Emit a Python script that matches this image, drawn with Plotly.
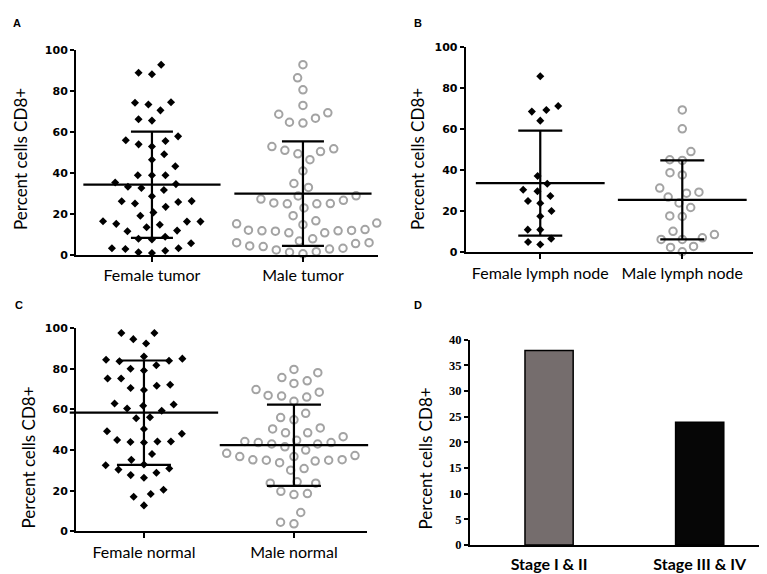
import math
import plotly.graph_objects as go

W, H = 767, 574

# ---- data ----
tumor_labels = ["Female tumor", "Male tumor"]
female_tumor = [92.9, 88.2, 89.0, 74.3, 73.5, 74.6, 70.6, 65.6, 66.3, 56.0, 54.0, 53.0,
                55.6, 57.9, 49.2, 46.5, 43.3, 38.9, 38.9, 38.9, 35.4, 34.6, 32.7, 31.7,
                33.3, 28.7, 26.3, 25.9, 23.5, 26.2, 25.1, 20.8, 19.2, 16.3, 16.3, 13.5,
                14.8, 15.2, 16.5, 11.6, 11.9, 7.9, 7.6, 8.9, 5.7, 3.3, 2.1, 1.0, 1.3, 2.9, 3.3]
male_tumor = [92.9, 86.5, 80.6, 73.0, 68.7, 64.8, 64.4, 66.8, 69.4, 52.9, 51.1, 49.4,
              50.5, 51.8, 46.5, 41.0, 34.9, 33.0, 28.9, 28.8, 26.7, 25.1, 25.0, 23.0,
              25.0, 25.4, 27.3, 19.2, 15.6, 14.8, 15.2, 16.7, 12.4, 11.8, 11.6, 10.8,
              12.0, 10.8, 11.8, 12.1, 6.8, 6.0, 4.4, 3.3, 7.9, 2.5, 1.3, 0.6, 1.6, 2.9,
              4.1, 5.6, 6.0]
tumor_mean = [34.3, 30.0]
tumor_sd = [25.9, 25.5]

lymph_labels = ["Female lymph node", "Male lymph node"]
female_lymph = [86.0, 69.5, 71.4, 68.7, 64.3, 37.3, 33.5, 29.8, 30.6, 27.5, 25.1, 24.0,
                20.2, 17.6, 11.1, 11.1, 6.7, 3.8, 5.1]
male_lymph = [69.5, 60.3, 49.2, 44.9, 45.2, 38.9, 37.8, 31.4, 29.4, 27.0, 28.9, 24.1,
              21.9, 17.5, 17.8, 10.3, 7.1, 6.3, 6.3, 8.7, 2.9, 0.3, 2.4]
lymph_mean = [33.8, 25.6]
lymph_sd = [25.6, 19.3]

normal_labels = ["Female normal", "Male normal"]
female_normal = [97.6, 97.6, 94.6, 92.5, 85.0, 84.0, 81.8, 86.1, 79.2, 80.0, 83.7, 84.5,
                 75.2, 72.2, 70.6, 69.6, 71.7, 75.2, 62.9, 61.8, 59.4, 60.5, 62.4, 55.7,
                 56.2, 50.4, 49.3, 48.0, 45.0, 44.0, 43.7, 44.2, 44.2, 38.1, 32.5, 30.4,
                 27.7, 26.4, 28.9, 35.2, 30.9, 32.9, 18.4, 20.5, 17.0, 12.8]
male_normal = [79.7, 78.1, 74.1, 72.8, 75.7, 69.8, 66.9, 66.1, 66.6, 68.5, 64.0, 58.1,
               56.0, 54.9, 50.4, 50.9, 48.5, 48.5, 46.6, 44.8, 44.2, 43.7, 43.7, 41.6,
               43.0, 43.0, 40.0, 38.4, 36.8, 36.8, 37.3, 35.3, 35.0, 35.0, 33.8, 34.6,
               35.2, 30.9, 30.1, 23.7, 23.7, 24.4, 19.7, 18.1, 18.6, 9.3, 3.7, 4.5]
normal_mean = [58.4, 42.4]
normal_sd = [25.7, 20.0]

stage_labels = ["Stage I & II", "Stage III & IV"]
stage_values = [37.9, 23.9]

# ---- layout geometry (pixels -> paper) ----
def px_dom(a, b, total):
    return [a / total, b / total]

panels = {
    "A": dict(xd=px_dom(68, 370, W), yd=[(H - 246) / H, (H - 36) / H], xr=[-0.503, 1.497]),
    "B": dict(xd=px_dom(457.7, 745, W), yd=[(H - 243.3) / H, (H - 33.3) / H], xr=[-0.525, 1.498]),
    "C": dict(xd=px_dom(68, 359, W), yd=[(H - 529.3) / H, (H - 321) / H], xr=[-0.453, 1.487]),
    "D": dict(xd=[462 / W, 1.0], yd=[(H - 543.3) / H, (H - 332.7) / H], xr=[-0.525, 1.50]),
}


def swarm(values, px_y, diam):
    # simple greedy beeswarm in pixel space
    order = sorted(range(len(values)), key=lambda i: values[i])
    placed = []
    out = [0.0] * len(values)
    for k, i in enumerate(order):
        y = values[i] * px_y
        cands = [0.0]
        for (px, py) in placed:
            dy = abs(y - py)
            if dy < diam:
                dx = math.sqrt(diam ** 2 - dy ** 2)
                cands += [px + dx, px - dx]
        sign = 1 if k % 2 == 0 else -1
        cands.sort(key=lambda c: (round(abs(c), 3), -sign * c))
        for c in cands:
            if all((c - px) ** 2 + (y - py) ** 2 >= diam ** 2 - 1e-6 for px, py in placed):
                out[i] = c
                placed.append((c, y))
                break
    return out


fig = go.Figure()

dot_sets = [
    ("A", "x", "y", [female_tumor, male_tumor], tumor_mean, tumor_sd, 98, 21, 13.5),
    ("B", "x2", "y2", [female_lymph, male_lymph], lymph_mean, lymph_sd, 92, 22, 12.5),
    ("C", "x3", "y3", [female_normal, male_normal], normal_mean, normal_sd, 106, 27, 13.5),
]

for key, xa, ya, groups, means, sds, mean_w, cap_w, gap in dot_sets:
    p = panels[key]
    px_x = (p["xd"][1] - p["xd"][0]) * W / (p["xr"][1] - p["xr"][0])
    px_y = (p["yd"][1] - p["yd"][0]) * H / 100.0
    for gi, vals in enumerate(groups):
        offs = swarm(vals, px_y, gap)
        xs = [gi + o / px_x for o in offs]
        if gi == 0:
            mk = dict(symbol="diamond", size=6.2, color="black", line=dict(width=0))
        else:
            mk = dict(symbol="circle-open", size=7.5, color="#a3a3a3", line=dict(width=2, color="#a3a3a3"))
        fig.add_trace(go.Scatter(x=xs, y=vals, mode="markers", marker=mk,
                                 xaxis=xa, yaxis=ya, cliponaxis=False, hoverinfo="y"))
    fig.add_trace(go.Scatter(
        x=[0, 1], y=means, mode="markers", xaxis=xa, yaxis=ya, cliponaxis=False,
        marker=dict(symbol="line-ew", size=mean_w, color="black", line=dict(width=2.2, color="black")),
        error_y=dict(type="data", array=sds, visible=True, color="black", thickness=2.2, width=cap_w),
    ))

fig.add_trace(go.Bar(
    x=[0, 1], y=stage_values, width=0.32, xaxis="x4", yaxis="y4",
    marker=dict(color=["#756d6d", "#060606"], line=dict(color="black", width=1.5)),
))

lab_font = dict(family="Lato", size=16, color="black")
tick_font = dict(family="DejaVu Sans", size=11, color="black", weight="bold")

common_y = dict(range=[0, 100], tickvals=[0, 20, 40, 60, 80, 100], showline=True, linewidth=2,
                linecolor="black", ticks="outside", ticklen=4, tickwidth=2, tickcolor="black",
                showgrid=False, zeroline=False, tickfont=tick_font)
common_x = dict(showline=True, linewidth=2, linecolor="black", ticks="outside", ticklen=5,
                tickwidth=2, tickcolor="black", showgrid=False, zeroline=False,
                tickvals=[0, 1], tickfont=lab_font, ticklabelstandoff=0)

fig.update_layout(
    width=W, height=H, margin=dict(l=0, r=0, t=0, b=0),
    paper_bgcolor="white", plot_bgcolor="white", showlegend=False,
    xaxis=dict(common_x, domain=panels["A"]["xd"], range=panels["A"]["xr"], anchor="y", ticktext=tumor_labels),
    yaxis=dict(common_y, domain=panels["A"]["yd"], anchor="x"),
    xaxis2=dict(common_x, domain=panels["B"]["xd"], range=panels["B"]["xr"], anchor="y2", ticktext=lymph_labels),
    yaxis2=dict(common_y, domain=panels["B"]["yd"], anchor="x2"),
    xaxis3=dict(common_x, domain=panels["C"]["xd"], range=panels["C"]["xr"], anchor="y3", ticktext=normal_labels),
    yaxis3=dict(common_y, domain=panels["C"]["yd"], anchor="x3"),
    xaxis4=dict(domain=panels["D"]["xd"], range=panels["D"]["xr"], anchor="y4", showline=True,
                linewidth=2, linecolor="black", ticks="", showgrid=False, zeroline=False,
                tickvals=[0, 1], ticktext=stage_labels, ticklabelstandoff=4,
                tickfont=dict(family="Lato", size=16, color="black", weight="bold")),
    yaxis4=dict(domain=panels["D"]["yd"], anchor="x4", range=[0, 40], tickvals=list(range(0, 41, 5)),
                showline=True, linewidth=2, linecolor="black", ticks="outside", ticklen=4, tickwidth=2,
                tickcolor="black", showgrid=False, zeroline=False,
                tickfont=dict(family="Liberation Serif", size=12.5, color="black", weight="bold")),
)

# y titles and panel letters
for px, py in [(0, 148), (397, 148), (8, 454), (405, 455)]:
    fig.add_annotation(x=px / W, y=1 - py / H, xref="paper", yref="paper", text="Percent cells CD8+",
                       textangle=-90, showarrow=False, xanchor="left", yanchor="middle",
                       font=dict(family="Lato", size=17, color="black"))
for letter, px, py in [("A", 9, 8), ("B", 410, 8), ("C", 11, 297), ("D", 410, 297)]:
    fig.add_annotation(x=px / W, y=1 - py / H, xref="paper", yref="paper", text=letter,
                       showarrow=False, xanchor="center", yanchor="middle",
                       font=dict(family="Liberation Sans", size=11, color="black", weight="bold"))

fig.write_html("out.html")
